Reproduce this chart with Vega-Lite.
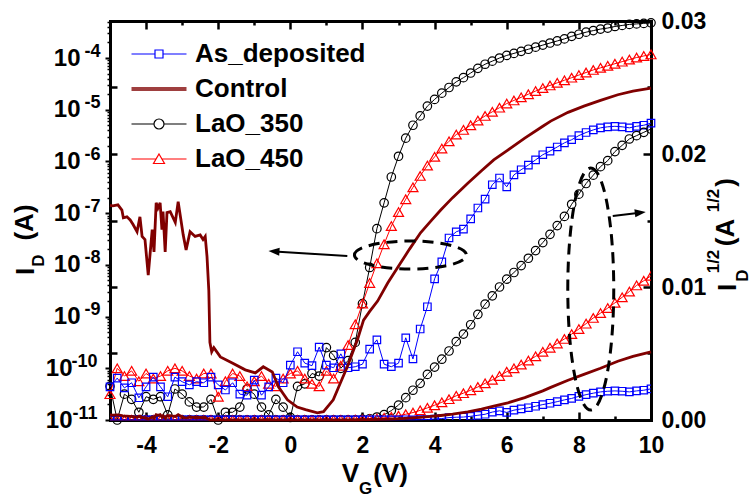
{
"$schema":"https://vega.github.io/schema/vega-lite/v6.json",
"width":541,"height":399,
"autosize":{"type":"none"},
"padding":{"left":110,"top":21,"right":101,"bottom":77},
"background":"white",
"config":{"view":{"stroke":null},"font":"Liberation Sans",
"axis":{"grid":false,"labelFont":"Liberation Sans","labelFontWeight":"bold","labelColor":"black","titleFont":"Liberation Sans","titleFontWeight":"bold","titleColor":"black","tickColor":"black","domainColor":"black","labelFlush":false,"labelOverlap":false,"titlePadding":0}},
"datasets":{
"L3":[{"v":-5,"i":4.47e-11,"q":6.7e-6},{"v":-4.8,"i":1.0e-11,"q":3.2e-6},{"v":-4.6,"i":3.16e-11,"q":5.6e-6},{"v":-4.4,"i":2.51e-11,"q":5.0e-6},{"v":-4.2,"i":1.41e-11,"q":3.8e-6},{"v":-4,"i":2.82e-11,"q":5.3e-6},{"v":-3.8,"i":2.51e-11,"q":5.0e-6},{"v":-3.6,"i":2.82e-11,"q":5.3e-6},{"v":-3.4,"i":1.26e-11,"q":3.5e-6},{"v":-3.2,"i":3.98e-11,"q":6.3e-6},{"v":-3,"i":3.16e-11,"q":5.6e-6},{"v":-2.8,"i":2.24e-11,"q":4.7e-6},{"v":-2.6,"i":1.78e-11,"q":4.2e-6},{"v":-2.4,"i":1.78e-11,"q":4.2e-6},{"v":-2.2,"i":2.51e-11,"q":5.0e-6},{"v":-2,"i":1.0e-11,"q":3.2e-6},{"v":-1.8,"i":1.41e-11,"q":3.8e-6},{"v":-1.6,"i":1.41e-11,"q":3.8e-6},{"v":-1.4,"i":1.78e-11,"q":4.2e-6},{"v":-1.2,"i":3.98e-11,"q":6.3e-6},{"v":-1,"i":3.16e-11,"q":5.6e-6},{"v":-0.8,"i":1.78e-11,"q":4.2e-6},{"v":-0.6,"i":1.26e-11,"q":3.5e-6},{"v":-0.4,"i":2.51e-11,"q":5.0e-6},{"v":-0.2,"i":1.78e-11,"q":4.2e-6},{"v":0,"i":1.12e-11,"q":3.3e-6},{"v":0.2,"i":4.47e-11,"q":6.7e-6},{"v":0.4,"i":5.01e-11,"q":7.1e-6},{"v":0.6,"i":7.94e-11,"q":8.9e-6},{"v":0.8,"i":7.08e-11,"q":8.4e-6},{"v":1,"i":2.51e-10,"q":1.58e-5},{"v":1.2,"i":1.78e-10,"q":1.33e-5},{"v":1.4,"i":1.0e-10,"q":1.0e-5},{"v":1.6,"i":1.41e-10,"q":1.19e-5},{"v":1.8,"i":3.16e-10,"q":1.78e-5},{"v":2,"i":1.78e-9,"q":4.2e-5},{"v":2.2,"i":8.91e-9,"q":9.4e-5},{"v":2.4,"i":5.01e-8,"q":2.24e-4},{"v":2.6,"i":1.585e-7,"q":3.98e-4},{"v":2.8,"i":5.01e-7,"q":7.08e-4},{"v":3,"i":1.259e-6,"q":1.122e-3},{"v":3.2,"i":2.818e-6,"q":1.679e-3},{"v":3.4,"i":5.012e-6,"q":2.239e-3},{"v":3.6,"i":7.586e-6,"q":2.754e-3},{"v":3.8,"i":1.175e-5,"q":3.428e-3},{"v":4,"i":1.585e-5,"q":3.981e-3},{"v":4.2,"i":2.089e-5,"q":4.571e-3},{"v":4.4,"i":2.692e-5,"q":5.188e-3},{"v":4.6,"i":3.467e-5,"q":5.888e-3},{"v":4.8,"i":4.169e-5,"q":6.457e-3},{"v":5,"i":5.129e-5,"q":7.161e-3},{"v":5.2,"i":6.31e-5,"q":7.943e-3},{"v":5.4,"i":7.586e-5,"q":8.71e-3},{"v":5.6,"i":8.71e-5,"q":9.333e-3},{"v":5.8,"i":1.0e-4,"q":0.01},{"v":6,"i":1.122e-4,"q":0.01059},{"v":6.2,"i":1.23e-4,"q":0.01109},{"v":6.4,"i":1.349e-4,"q":0.01161},{"v":6.6,"i":1.479e-4,"q":0.01216},{"v":6.8,"i":1.622e-4,"q":0.01274},{"v":7,"i":1.778e-4,"q":0.01334},{"v":7.2,"i":1.95e-4,"q":0.01396},{"v":7.4,"i":2.138e-4,"q":0.01462},{"v":7.6,"i":2.344e-4,"q":0.01531},{"v":7.8,"i":2.63e-4,"q":0.01622},{"v":8,"i":2.884e-4,"q":0.01698},{"v":8.2,"i":3.162e-4,"q":0.01778},{"v":8.4,"i":3.388e-4,"q":0.01841},{"v":8.6,"i":3.631e-4,"q":0.01905},{"v":8.8,"i":3.802e-4,"q":0.0195},{"v":9,"i":4.074e-4,"q":0.02018},{"v":9.2,"i":4.266e-4,"q":0.02065},{"v":9.4,"i":4.467e-4,"q":0.02113},{"v":9.6,"i":4.571e-4,"q":0.02138},{"v":9.8,"i":4.677e-4,"q":0.02163},{"v":10,"i":4.786e-4,"q":0.02188}],
"L4":[{"v":-5,"i":3.16e-11,"q":5.6e-6},{"v":-4.8,"i":1.0e-10,"q":1.0e-5},{"v":-4.6,"i":7.08e-11,"q":8.4e-6},{"v":-4.4,"i":8.91e-11,"q":9.4e-6},{"v":-4.2,"i":5.62e-11,"q":7.5e-6},{"v":-4,"i":7.94e-11,"q":8.9e-6},{"v":-3.8,"i":6.31e-11,"q":7.9e-6},{"v":-3.6,"i":7.08e-11,"q":8.4e-6},{"v":-3.4,"i":8.91e-11,"q":9.4e-6},{"v":-3.2,"i":1.0e-10,"q":1.0e-5},{"v":-3,"i":8.91e-11,"q":9.4e-6},{"v":-2.8,"i":7.08e-11,"q":8.4e-6},{"v":-2.6,"i":6.31e-11,"q":7.9e-6},{"v":-2.4,"i":7.94e-11,"q":8.9e-6},{"v":-2.2,"i":7.94e-11,"q":8.9e-6},{"v":-2,"i":2.82e-11,"q":5.3e-6},{"v":-1.8,"i":5.62e-11,"q":7.5e-6},{"v":-1.6,"i":7.94e-11,"q":8.9e-6},{"v":-1.4,"i":7.08e-11,"q":8.4e-6},{"v":-1.2,"i":4.47e-11,"q":6.7e-6},{"v":-1,"i":5.62e-11,"q":7.5e-6},{"v":-0.8,"i":7.08e-11,"q":8.4e-6},{"v":-0.6,"i":5.01e-11,"q":7.1e-6},{"v":-0.4,"i":4.47e-11,"q":6.7e-6},{"v":-0.2,"i":6.31e-11,"q":7.9e-6},{"v":0,"i":7.94e-11,"q":8.9e-6},{"v":0.2,"i":8.91e-11,"q":9.4e-6},{"v":0.4,"i":6.31e-11,"q":7.9e-6},{"v":0.6,"i":5.01e-11,"q":7.1e-6},{"v":0.8,"i":4.47e-11,"q":6.7e-6},{"v":1,"i":8.91e-11,"q":9.4e-6},{"v":1.2,"i":6.31e-11,"q":7.9e-6},{"v":1.4,"i":1.12e-10,"q":1.06e-5},{"v":1.6,"i":2.82e-10,"q":1.68e-5},{"v":1.8,"i":7.08e-10,"q":2.66e-5},{"v":2,"i":1.78e-9,"q":4.22e-5},{"v":2.2,"i":4.47e-9,"q":6.68e-5},{"v":2.4,"i":1.07e-8,"q":1.035e-4},{"v":2.6,"i":2.51e-8,"q":1.585e-4},{"v":2.8,"i":5.62e-8,"q":2.37e-4},{"v":3,"i":1.047e-7,"q":3.24e-4},{"v":3.2,"i":1.862e-7,"q":4.32e-4},{"v":3.4,"i":3.162e-7,"q":5.62e-4},{"v":3.6,"i":5.248e-7,"q":7.24e-4},{"v":3.8,"i":8.318e-7,"q":9.12e-4},{"v":4,"i":1.23e-6,"q":1.109e-3},{"v":4.2,"i":1.778e-6,"q":1.334e-3},{"v":4.4,"i":2.455e-6,"q":1.567e-3},{"v":4.6,"i":3.311e-6,"q":1.82e-3},{"v":4.8,"i":4.074e-6,"q":2.018e-3},{"v":5,"i":5.012e-6,"q":2.239e-3},{"v":5.2,"i":6.166e-6,"q":2.483e-3},{"v":5.4,"i":7.586e-6,"q":2.754e-3},{"v":5.6,"i":9.12e-6,"q":3.02e-3},{"v":5.8,"i":1.096e-5,"q":3.311e-3},{"v":6,"i":1.318e-5,"q":3.631e-3},{"v":6.2,"i":1.514e-5,"q":3.89e-3},{"v":6.4,"i":1.738e-5,"q":4.169e-3},{"v":6.6,"i":1.995e-5,"q":4.467e-3},{"v":6.8,"i":2.291e-5,"q":4.786e-3},{"v":7,"i":2.63e-5,"q":5.129e-3},{"v":7.2,"i":2.951e-5,"q":5.433e-3},{"v":7.4,"i":3.311e-5,"q":5.754e-3},{"v":7.6,"i":3.715e-5,"q":6.095e-3},{"v":7.8,"i":4.169e-5,"q":6.457e-3},{"v":8,"i":4.677e-5,"q":6.839e-3},{"v":8.2,"i":5.248e-5,"q":7.244e-3},{"v":8.4,"i":5.888e-5,"q":7.674e-3},{"v":8.6,"i":6.457e-5,"q":8.035e-3},{"v":8.8,"i":7.079e-5,"q":8.414e-3},{"v":9,"i":7.762e-5,"q":8.81e-3},{"v":9.2,"i":8.511e-5,"q":9.226e-3},{"v":9.4,"i":9.333e-5,"q":9.661e-3},{"v":9.6,"i":1.023e-4,"q":0.01012},{"v":9.8,"i":1.096e-4,"q":0.01047},{"v":10,"i":1.175e-4,"q":0.01084}],
"A":[{"v":-5,"i":4.37e-11,"q":6.6e-6},{"v":-4.8,"i":6.46e-11,"q":8.0e-6},{"v":-4.6,"i":4.17e-11,"q":6.5e-6},{"v":-4.4,"i":5.25e-11,"q":7.2e-6},{"v":-4.2,"i":2.69e-11,"q":5.2e-6},{"v":-4,"i":4.37e-11,"q":6.6e-6},{"v":-3.8,"i":6.76e-11,"q":8.2e-6},{"v":-3.6,"i":4.37e-11,"q":6.6e-6},{"v":-3.4,"i":2.82e-11,"q":5.3e-6},{"v":-3.2,"i":6.76e-11,"q":8.2e-6},{"v":-3,"i":5.5e-11,"q":7.4e-6},{"v":-2.8,"i":4.79e-11,"q":6.9e-6},{"v":-2.6,"i":5.5e-11,"q":7.4e-6},{"v":-2.4,"i":5.25e-11,"q":7.2e-6},{"v":-2.2,"i":6.76e-11,"q":8.2e-6},{"v":-2,"i":4.79e-11,"q":6.9e-6},{"v":-1.8,"i":3.8e-11,"q":6.2e-6},{"v":-1.6,"i":5.25e-11,"q":7.2e-6},{"v":-1.4,"i":3.16e-11,"q":5.6e-6},{"v":-1.2,"i":3.02e-11,"q":5.5e-6},{"v":-1,"i":5.89e-11,"q":7.7e-6},{"v":-0.8,"i":3.02e-11,"q":5.5e-6},{"v":-0.6,"i":4.37e-11,"q":6.6e-6},{"v":-0.4,"i":6.46e-11,"q":8.0e-6},{"v":-0.2,"i":5.25e-11,"q":7.2e-6},{"v":0,"i":1.148e-10,"q":1.07e-5},{"v":0.2,"i":2.089e-10,"q":1.45e-5},{"v":0.4,"i":1.259e-10,"q":1.12e-5},{"v":0.6,"i":1.122e-10,"q":1.06e-5},{"v":0.8,"i":2.57e-10,"q":1.6e-5},{"v":1,"i":1.148e-10,"q":1.07e-5},{"v":1.2,"i":1.023e-10,"q":1.01e-5},{"v":1.4,"i":1.905e-10,"q":1.38e-5},{"v":1.6,"i":1.023e-10,"q":1.01e-5},{"v":1.8,"i":1.072e-10,"q":1.04e-5},{"v":2,"i":1.202e-10,"q":1.1e-5},{"v":2.2,"i":2.344e-10,"q":1.53e-5},{"v":2.4,"i":3.548e-10,"q":1.88e-5},{"v":2.6,"i":1.202e-10,"q":1.1e-5},{"v":2.8,"i":1.072e-10,"q":1.04e-5},{"v":3,"i":1.259e-10,"q":1.12e-5},{"v":3.2,"i":3.89e-10,"q":1.97e-5},{"v":3.4,"i":1.514e-10,"q":1.23e-5},{"v":3.6,"i":5.754e-10,"q":2.4e-5},{"v":3.8,"i":1.549e-9,"q":3.94e-5},{"v":4,"i":5.37e-9,"q":7.33e-5},{"v":4.2,"i":1.148e-8,"q":1.07e-4},{"v":4.4,"i":3.311e-8,"q":1.82e-4},{"v":4.6,"i":4.365e-8,"q":2.09e-4},{"v":4.8,"i":4.898e-8,"q":2.21e-4},{"v":5,"i":7.762e-8,"q":2.79e-4},{"v":5.2,"i":1.259e-7,"q":3.55e-4},{"v":5.4,"i":1.862e-7,"q":4.32e-4},{"v":5.6,"i":3.548e-7,"q":5.96e-4},{"v":5.8,"i":4.786e-7,"q":6.92e-4},{"v":6,"i":3.236e-7,"q":5.69e-4},{"v":6.2,"i":5.495e-7,"q":7.41e-4},{"v":6.4,"i":6.918e-7,"q":8.32e-4},{"v":6.6,"i":8.511e-7,"q":9.23e-4},{"v":6.8,"i":1.072e-6,"q":1.035e-3},{"v":7,"i":1.349e-6,"q":1.161e-3},{"v":7.2,"i":1.585e-6,"q":1.259e-3},{"v":7.4,"i":1.905e-6,"q":1.38e-3},{"v":7.6,"i":2.291e-6,"q":1.514e-3},{"v":7.8,"i":2.63e-6,"q":1.622e-3},{"v":8,"i":3.162e-6,"q":1.778e-3},{"v":8.2,"i":3.631e-6,"q":1.905e-3},{"v":8.4,"i":4.074e-6,"q":2.018e-3},{"v":8.6,"i":4.467e-6,"q":2.113e-3},{"v":8.8,"i":4.677e-6,"q":2.163e-3},{"v":9,"i":4.786e-6,"q":2.188e-3},{"v":9.2,"i":4.677e-6,"q":2.163e-3},{"v":9.4,"i":4.467e-6,"q":2.113e-3},{"v":9.6,"i":4.786e-6,"q":2.188e-3},{"v":9.8,"i":5.012e-6,"q":2.239e-3},{"v":10,"i":5.495e-6,"q":2.344e-3}],
"C":[{"v":-5,"i":1.413e-7,"q":3.76e-4},{"v":-4.92,"i":1.38e-7,"q":3.72e-4},{"v":-4.78,"i":1.445e-7,"q":3.8e-4},{"v":-4.67,"i":1.148e-7,"q":3.39e-4},{"v":-4.63,"i":8.13e-8,"q":2.85e-4},{"v":-4.53,"i":8.51e-8,"q":2.92e-4},{"v":-4.44,"i":7.41e-8,"q":2.72e-4},{"v":-4.36,"i":6.03e-8,"q":2.46e-4},{"v":-4.25,"i":4.37e-8,"q":2.09e-4},{"v":-4.17,"i":8.51e-8,"q":2.92e-4},{"v":-4.11,"i":3.55e-8,"q":1.88e-4},{"v":-4.03,"i":3.09e-8,"q":1.76e-4},{"v":-3.94,"i":6.31e-9,"q":7.9e-5},{"v":-3.83,"i":4.79e-8,"q":2.19e-4},{"v":-3.78,"i":1.78e-8,"q":1.33e-4},{"v":-3.72,"i":1.585e-7,"q":3.98e-4},{"v":-3.67,"i":1.259e-7,"q":3.55e-4},{"v":-3.61,"i":1.585e-7,"q":3.98e-4},{"v":-3.56,"i":4.79e-8,"q":2.19e-4},{"v":-3.53,"i":1.072e-7,"q":3.27e-4},{"v":-3.47,"i":1.78e-8,"q":1.33e-4},{"v":-3.42,"i":1.023e-7,"q":3.2e-4},{"v":-3.33,"i":1.072e-7,"q":3.27e-4},{"v":-3.19,"i":6.61e-8,"q":2.57e-4},{"v":-3.11,"i":1.66e-7,"q":4.07e-4},{"v":-2.97,"i":3.8e-8,"q":1.95e-4},{"v":-2.89,"i":1.95e-8,"q":1.4e-4},{"v":-2.78,"i":4.37e-8,"q":2.09e-4},{"v":-2.64,"i":3.55e-8,"q":1.88e-4},{"v":-2.5,"i":3.8e-8,"q":1.95e-4},{"v":-2.42,"i":3.09e-8,"q":1.76e-4},{"v":-2.36,"i":3.55e-8,"q":1.88e-4},{"v":-2.31,"i":1.445e-8,"q":1.2e-4},{"v":-2.26,"i":3.16e-9,"q":5.6e-5},{"v":-2.23,"i":3.16e-10,"q":1.78e-5},{"v":-2.18,"i":2.09e-10,"q":1.45e-5},{"v":-2.12,"i":2.51e-10,"q":1.58e-5},{"v":-1.94,"i":1.66e-10,"q":1.29e-5},{"v":-1.61,"i":1.26e-10,"q":1.12e-5},{"v":-1.25,"i":9.33e-11,"q":9.7e-6},{"v":-0.97,"i":8.13e-11,"q":9.0e-6},{"v":-0.75,"i":1.07e-10,"q":1.03e-5},{"v":-0.5,"i":8.51e-11,"q":9.2e-6},{"v":-0.33,"i":4.37e-11,"q":6.6e-6},{"v":-0.08,"i":2.45e-11,"q":4.9e-6},{"v":0.19,"i":1.78e-11,"q":4.2e-6},{"v":0.42,"i":1.585e-11,"q":4.0e-6},{"v":0.75,"i":1.38e-11,"q":3.7e-6},{"v":0.92,"i":1.445e-11,"q":3.8e-6},{"v":1.19,"i":2.45e-11,"q":4.9e-6},{"v":1.39,"i":5.25e-11,"q":7.2e-6},{"v":1.58,"i":1.07e-10,"q":1.03e-5},{"v":1.86,"i":3.55e-10,"q":1.88e-5},{"v":2.03,"i":8.51e-10,"q":2.92e-5},{"v":2.2,"i":1.259e-9,"q":3.55e-5},{"v":2.42,"i":1.995e-9,"q":4.47e-5},{"v":2.7,"i":4.47e-9,"q":6.68e-5},{"v":3.06,"i":1.096e-8,"q":1.047e-4},{"v":3.3,"i":1.995e-8,"q":1.413e-4},{"v":3.61,"i":4.17e-8,"q":2.04e-4},{"v":3.9,"i":7.08e-8,"q":2.66e-4},{"v":4.17,"i":1.148e-7,"q":3.39e-4},{"v":4.5,"i":1.995e-7,"q":4.47e-4},{"v":4.92,"i":3.8e-7,"q":6.17e-4},{"v":5.3,"i":6.61e-7,"q":8.13e-4},{"v":5.64,"i":1.072e-6,"q":1.035e-3},{"v":6.03,"i":1.66e-6,"q":1.288e-3},{"v":6.5,"i":2.818e-6,"q":1.679e-3},{"v":7,"i":4.786e-6,"q":2.188e-3},{"v":7.22,"i":6.03e-6,"q":2.455e-3},{"v":7.7,"i":8.91e-6,"q":2.985e-3},{"v":8.14,"i":1.175e-5,"q":3.428e-3},{"v":8.6,"i":1.514e-5,"q":3.89e-3},{"v":9.08,"i":1.95e-5,"q":4.416e-3},{"v":9.5,"i":2.291e-5,"q":4.786e-3},{"v":10,"i":2.63e-5,"q":5.129e-3}]
},
"layer":[
{"layer":[
{"data":{"name":"L3"},"mark":{"type":"line","color":"black","strokeWidth":1},
 "encoding":{"x":{"field":"v","type":"quantitative","scale":{"domain":[-5,10],"nice":false,"zero":false},
   "axis":{"orient":"bottom","values":[-4,-2,0,2,4,6,8,10],"labelExpr":"datum.value < 0 ? '-' + abs(datum.value) : '' + datum.value","ticks":false,"domain":true,"domainWidth":3,"domainCap":"square","labelFontSize":23,"labelPadding":14,"title":"V","titleFontSize":26,"titleX":240,"titleY":53,"titleAlign":"center","titleBaseline":"middle","titleAngle":0}},
  "y":{"field":"i","type":"quantitative","scale":{"type":"log","domain":[1e-11,5.2e-4],"nice":false},
   "axis":{"orient":"left","values":[1e-9,1e-8,1e-7,1e-6,1e-5,1e-4],"labelExpr":"'10'","tickSize":5,"tickWidth":2,"domain":true,"domainWidth":3,"domainCap":"square","labelFontSize":24,"labelPadding":25,"title":"I","titleFontSize":26,"titleAngle":270,"titleX":-85,"titleY":250,"titleAlign":"center","titleBaseline":"middle"}}}},
{"data":{"name":"L3"},"mark":{"type":"point","shape":"circle","filled":false,"color":"black","strokeWidth":1.2,"size":72,"opacity":1},
 "encoding":{"x":{"field":"v","type":"quantitative","axis":{"orient":"bottom","ticks":false,"labels":false,"domain":false,"title":"G","titleFontSize":17,"titleX":255,"titleY":68,"titleAlign":"center","titleBaseline":"middle","titleAngle":0}},
  "y":{"field":"i","type":"quantitative","axis":{"orient":"left","values":[1e-11,1e-10],"labelExpr":"'10'","tickSize":5,"tickWidth":2,"domain":false,"labelFontSize":24,"labelPadding":33,"title":null}}}},
{"data":{"name":"L4"},"mark":{"type":"line","color":"#FF0000","strokeWidth":1},
 "encoding":{"x":{"field":"v","type":"quantitative","axis":{"orient":"bottom","ticks":false,"labels":false,"domain":false,"title":"(V)","titleFontSize":26,"titleX":280,"titleY":53,"titleAlign":"center","titleBaseline":"middle","titleAngle":0}},
  "y":{"field":"i","type":"quantitative","axis":{"orient":"left","values":[1e-9,1e-8,1e-7,1e-6,1e-5,1e-4],"labelExpr":"'-' + round(-log(datum.value)/LN10)","ticks":false,"domain":false,"labelFontSize":18,"labelPadding":10,"labelOffset":-7,"title":"D","titleFontSize":17,"titleAngle":270,"titleX":-72,"titleY":239,"titleAlign":"center","titleBaseline":"middle"}}}},
{"data":{"name":"L4"},"mark":{"type":"point","shape":"triangle-up","filled":false,"color":"#FF0000","strokeWidth":1.2,"size":100,"opacity":1},
 "encoding":{"x":{"field":"v","type":"quantitative","axis":{"orient":"top","offset":-399,"values":[-4,-2,0,2,4,6,8],"tickSize":8,"tickWidth":2.5,"labels":false,"domain":false,"title":null}},
  "y":{"field":"i","type":"quantitative","axis":{"orient":"left","values":[1e-11,1e-10],"labelExpr":"'-' + round(-log(datum.value)/LN10)","ticks":false,"domain":false,"labelFontSize":18,"labelPadding":13,"labelOffset":-7,"title":null}}}},
{"data":{"name":"A"},"mark":{"type":"line","color":"#0000FF","strokeWidth":1},
 "encoding":{"x":{"field":"v","type":"quantitative","axis":{"orient":"top","offset":-399,"values":[-3,-1,1,3,5,7,9],"tickSize":4,"tickWidth":2.5,"labels":false,"domain":false,"title":null}},
  "y":{"field":"i","type":"quantitative","axis":{"orient":"left","values":[2e-11,3e-11,4e-11,5e-11,6e-11,7e-11,8e-11,9e-11,2e-10,3e-10,4e-10,5e-10,6e-10,7e-10,8e-10,9e-10,2e-9,3e-9,4e-9,5e-9,6e-9,7e-9,8e-9,9e-9,2e-8,3e-8,4e-8,5e-8,6e-8,7e-8,8e-8,9e-8,2e-7,3e-7,4e-7,5e-7,6e-7,7e-7,8e-7,9e-7,2e-6,3e-6,4e-6,5e-6,6e-6,7e-6,8e-6,9e-6,2e-5,3e-5,4e-5,5e-5,6e-5,7e-5,8e-5,9e-5,2e-4,3e-4,4e-4,5e-4],"tickSize":3,"tickWidth":1.5,"labels":false,"domain":false,"title":"(A)","titleFontSize":26,"titleAngle":270,"titleX":-86,"titleY":201,"titleAlign":"center","titleBaseline":"middle"}}}},
{"data":{"name":"A"},"mark":{"type":"point","shape":"square","filled":false,"color":"#0000FF","strokeWidth":1.2,"size":56,"opacity":1},
 "encoding":{"x":{"field":"v","type":"quantitative","axis":{"orient":"bottom","offset":-399,"values":[-4,-2,0,2,4,6,8],"tickSize":8,"tickWidth":2.5,"labels":false,"domain":true,"domainWidth":3,"domainCap":"square","title":null}},
  "y":{"field":"i","type":"quantitative","axis":null}}},
{"data":{"name":"C"},"mark":{"type":"line","color":"#800000","strokeWidth":2.8},
 "encoding":{"x":{"field":"v","type":"quantitative","axis":{"orient":"bottom","offset":-399,"values":[-3,-1,1,3,5,7,9],"tickSize":4,"tickWidth":2.5,"labels":false,"domain":false,"title":null}},
  "y":{"field":"i","type":"quantitative","axis":null}}},
{"data":{"values":[{"v":3.33,"i":1.55e-8}]},"mark":{"type":"point","shape":"M-1,0C-1,-0.138 -0.552,-0.25 0,-0.25C0.552,-0.25 1,-0.138 1,0C1,0.138 0.552,0.25 0,0.25C-0.552,0.25 -1,0.138 -1,0Z","size":12544,"filled":false,"color":"black","strokeWidth":3,"strokeDash":[11,7],"opacity":1},
 "encoding":{"x":{"field":"v","type":"quantitative","axis":null},"y":{"field":"i","type":"quantitative","axis":null}}},
{"data":{"values":[{"v":1.58,"i":1.48e-8},{"v":-0.44,"i":1.82e-8}]},"mark":{"type":"line","color":"black","strokeWidth":2},
 "encoding":{"x":{"field":"v","type":"quantitative","axis":null},"y":{"field":"i","type":"quantitative","axis":null}}},
{"data":{"values":[{"v":-0.44,"i":1.82e-8}]},"mark":{"type":"point","shape":"M-1.2,0L1,-0.8L1,0.8Z","size":100,"filled":true,"color":"black","angle":4,"opacity":1},
 "encoding":{"x":{"field":"v","type":"quantitative","axis":null},"y":{"field":"i","type":"quantitative","axis":null}}},
{"data":{"values":[]},"mark":{"type":"point","filled":false,"opacity":1},
 "encoding":{
  "color":{"field":"n","type":"nominal","scale":{"domain":["As_deposited","Control","LaO_350","LaO_450"],"range":["#0000FF","#800000","#000000","#FF0000"]},
   "legend":{"orient":"none","legendX":36,"legendY":20,"title":null,"labelFont":"Liberation Sans","labelFontWeight":"bold","labelFontSize":26,"labelColor":"black","labelLimit":400,"symbolSize":100,"symbolStrokeWidth":1.2,"labelOffset":23,"rowPadding":9,"padding":0}},
  "shape":{"field":"n","type":"nominal","scale":{"domain":["As_deposited","Control","LaO_350","LaO_450"],"range":["M-5.5,0H-0.8M0.8,0H5.5M-0.8,-0.8H0.8V0.8H-0.8Z","M-5.5,-0.25H5.5M-5.5,0H5.5M-5.5,0.25H5.5","M-5.5,0H-1M1,0H5.5M-1,0C-1,-0.552 -0.552,-1 0,-1C0.552,-1 1,-0.552 1,0C1,0.552 0.552,1 0,1C-0.552,1 -1,0.552 -1,0Z","M-5.5,0H-0.6M0.6,0H5.5M0,-1L1.1,0.9H-1.1Z"]},
   "legend":{"orient":"none","legendX":36,"legendY":20,"title":null,"labelFont":"Liberation Sans","labelFontWeight":"bold","labelFontSize":26,"labelColor":"black","labelLimit":400,"symbolSize":100,"symbolStrokeWidth":1.2,"labelOffset":23,"rowPadding":9,"padding":0}}}}
],"resolve":{"axis":{"x":"independent","y":"independent"}}},
{"layer":[
{"data":{"name":"L3"},"mark":{"type":"line","color":"black","strokeWidth":1},
 "encoding":{"x":{"field":"v","type":"quantitative","axis":null},
  "y":{"field":"q","type":"quantitative","scale":{"domain":[0,0.03],"nice":false,"zero":true},
   "axis":{"orient":"right","values":[0,0.01,0.02,0.03],"format":".2f","ticks":false,"domain":true,"domainWidth":3,"domainCap":"square","labelFontSize":23,"labelPadding":10,"title":"I","titleFontSize":26,"titleAngle":270,"titleX":76,"titleY":266,"titleAlign":"center","titleBaseline":"middle"}}}},
{"data":{"name":"L3"},"mark":{"type":"point","shape":"circle","filled":false,"color":"black","strokeWidth":1.2,"size":72,"opacity":1,"clip":true},
 "encoding":{"x":{"field":"v","type":"quantitative","axis":null},
  "y":{"field":"q","type":"quantitative","axis":{"orient":"right","ticks":false,"labels":false,"domain":false,"title":"D","titleFontSize":17,"titleAngle":270,"titleX":91,"titleY":254,"titleAlign":"center","titleBaseline":"middle"}}}},
{"data":{"name":"L4"},"mark":{"type":"line","color":"#FF0000","strokeWidth":1},
 "encoding":{"x":{"field":"v","type":"quantitative","axis":null},
  "y":{"field":"q","type":"quantitative","axis":{"orient":"right","ticks":false,"labels":false,"domain":false,"title":"1/2","titleFontSize":17,"titleAngle":270,"titleX":62,"titleY":240,"titleAlign":"center","titleBaseline":"middle"}}}},
{"data":{"name":"L4"},"mark":{"type":"point","shape":"triangle-up","filled":false,"color":"#FF0000","strokeWidth":1.2,"size":100,"opacity":1,"clip":true},
 "encoding":{"x":{"field":"v","type":"quantitative","axis":null},
  "y":{"field":"q","type":"quantitative","axis":{"orient":"right","ticks":false,"labels":false,"domain":false,"title":"(A","titleFontSize":26,"titleAngle":270,"titleX":74,"titleY":211,"titleAlign":"center","titleBaseline":"middle"}}}},
{"data":{"name":"A"},"mark":{"type":"line","color":"#0000FF","strokeWidth":1},
 "encoding":{"x":{"field":"v","type":"quantitative","axis":null},
  "y":{"field":"q","type":"quantitative","axis":{"orient":"right","ticks":false,"labels":false,"domain":false,"title":"1/2","titleFontSize":17,"titleAngle":270,"titleX":62,"titleY":179,"titleAlign":"center","titleBaseline":"middle"}}}},
{"data":{"name":"A"},"mark":{"type":"point","shape":"square","filled":false,"color":"#0000FF","strokeWidth":1.2,"size":56,"opacity":1,"clip":true},
 "encoding":{"x":{"field":"v","type":"quantitative","axis":null},
  "y":{"field":"q","type":"quantitative","axis":{"orient":"right","ticks":false,"labels":false,"domain":false,"title":")","titleFontSize":26,"titleAngle":270,"titleX":74,"titleY":161,"titleAlign":"center","titleBaseline":"middle"}}}},
{"data":{"name":"C"},"mark":{"type":"line","color":"#800000","strokeWidth":2.8},
 "encoding":{"x":{"field":"v","type":"quantitative","axis":null},
  "y":{"field":"q","type":"quantitative","axis":{"orient":"left","offset":-541,"values":[0,0.01,0.02,0.03],"tickSize":8,"tickWidth":2.5,"labels":false,"domain":false,"title":null}}}},
{"data":{"values":[{"v":8.33,"q":0.00985}]},"mark":{"type":"point","shape":"M0,-1C0.105,-1 0.19,-0.552 0.19,0C0.19,0.552 0.105,1 0,1C-0.105,1 -0.19,0.552 -0.19,0C-0.19,-0.552 -0.105,-1 0,-1Z","size":58564,"filled":false,"color":"black","strokeWidth":3,"strokeDash":[11,7],"opacity":1},
 "encoding":{"x":{"field":"v","type":"quantitative","axis":null},
  "y":{"field":"q","type":"quantitative","axis":{"orient":"left","offset":-541,"values":[0.005,0.015,0.025],"tickSize":4,"tickWidth":2.5,"labels":false,"domain":false,"title":null}}}},
{"data":{"values":[{"v":8.94,"q":0.01534},{"v":9.69,"q":0.01559}]},"mark":{"type":"line","color":"black","strokeWidth":2},
 "encoding":{"x":{"field":"v","type":"quantitative","axis":null},
  "y":{"field":"q","type":"quantitative","axis":{"orient":"right","offset":-541,"values":[0.005,0.01,0.015,0.02,0.025],"tickSize":7,"tickWidth":2.5,"labels":false,"domain":false,"title":null}}}},
{"data":{"values":[{"v":9.69,"q":0.01559}]},"mark":{"type":"point","shape":"M1.2,0L-1,-0.8L-1,0.8Z","size":100,"filled":true,"color":"black","angle":-7,"opacity":1},
 "encoding":{"x":{"field":"v","type":"quantitative","axis":null},"y":{"field":"q","type":"quantitative","axis":null}}}
],"resolve":{"axis":{"x":"independent","y":"independent"}}}
],
"resolve":{"scale":{"y":"independent"},"axis":{"x":"independent","y":"independent"}}
}
